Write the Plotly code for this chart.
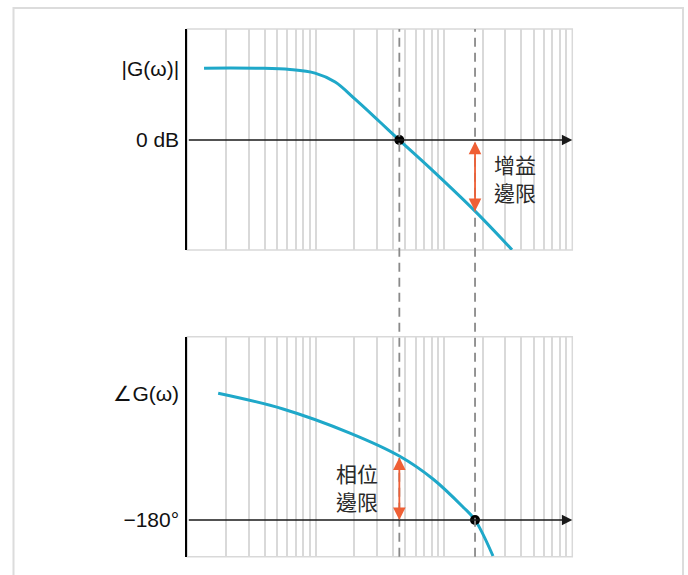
import math
import plotly.graph_objects as go

# ---- data ----
mag_omega = [1.35, 3.69, 6.31, 9.89, 14.2, 20.3, 31.7, 44.9, 77.9, 174.6, 339]
mag_db = [25.9, 25.85, 25.4, 24.1, 20.9, 14.7, 6.5, 0, -10.1, -25.6, -39.5]

phase_omega = [1.74, 5.57, 18.5, 44.9, 82.1, 140.7, 174.6, 241]
phase_deg = [-89.5, -100.7, -117.9, -134.3, -150.7, -170.7, -180, -205.7]

gain_crossover = 44.9      # |G| = 0 dB
phase_crossover = 174.6    # angle = -180 deg
gain_at_pc = -25.6         # |G| at phase crossover
phase_at_gc = -134.3       # angle at gain crossover

mag_ticks = [25.9, 0]
mag_ticktext = ["|G(ω)|", "0 dB"]
phase_ticks = [-89.5, -180]
phase_ticktext = ["∠G(ω)", "−180°"]

gain_label = ["增益", "邊限"]
phase_label = ["相位", "邊限"]

# ---- styling ----
W, H = 688, 575
CURVE = "#1fa8c9"
ARROW = "#ef5f35"
GRID = "#d9d9d9"
FONT = "Liberation Sans, Arial, sans-serif"
CJK = "Noto Sans CJK TC, Noto Sans CJK SC, sans-serif"

xdom = [187.3 / W, 572.3 / W]
ydom_top = [(H - 250) / H, (H - 29) / H]
ydom_bot = [(H - 556.7) / H, (H - 336.7) / H]

fig = go.Figure()

fig.add_trace(go.Scatter(x=mag_omega, y=mag_db, mode="lines",
                         line=dict(color=CURVE, width=3, shape="spline", smoothing=1.0),
                         xaxis="x", yaxis="y", showlegend=False, hoverinfo="skip"))
fig.add_trace(go.Scatter(x=phase_omega, y=phase_deg, mode="lines",
                         line=dict(color=CURVE, width=3, shape="spline", smoothing=1.0),
                         xaxis="x2", yaxis="y2", showlegend=False, hoverinfo="skip"))
# crossover dots
fig.add_trace(go.Scatter(x=[gain_crossover], y=[0], mode="markers", marker=dict(color="black", size=10),
                         xaxis="x", yaxis="y", showlegend=False, hoverinfo="skip"))
fig.add_trace(go.Scatter(x=[phase_crossover], y=[-180], mode="markers", marker=dict(color="black", size=10),
                         xaxis="x2", yaxis="y2", showlegend=False, hoverinfo="skip"))

xcommon = dict(type="log", range=[0, 3], showticklabels=False, showgrid=True, gridcolor=GRID, gridwidth=1.5,
               dtick="D1", ticks="", zeroline=False, showline=False, fixedrange=True)
ycommon = dict(showgrid=False, zeroline=False, showline=True, linecolor="black", linewidth=2,
               ticks="outside", ticklen=2, tickcolor="rgba(0,0,0,0)",
               tickfont=dict(family=FONT, size=21, color="#111"), fixedrange=True)
fig.update_layout(
    xaxis=dict(domain=xdom, anchor="y", **xcommon),
    xaxis2=dict(domain=xdom, anchor="y2", **xcommon),
    yaxis=dict(domain=ydom_top, anchor="x", range=[-39.6, 40], tickvals=mag_ticks, ticktext=mag_ticktext,
               **ycommon),
    yaxis2=dict(domain=ydom_bot, anchor="x2", range=[-206.2, -49.1], tickvals=phase_ticks,
                ticktext=phase_ticktext, **ycommon),
    width=W, height=H, margin=dict(l=0, r=0, t=0, b=0),
    plot_bgcolor="white", paper_bgcolor="white",
)

shapes = []
# outer frame (open at the bottom)
shapes.append(dict(type="path", xref="paper", yref="paper",
                   path=f"M {13.5/W},-0.05 L {13.5/W},{(H-8)/H} L {683/W},{(H-8)/H} L {683/W},-0.05",
                   line=dict(color="#dcdcdc", width=2), layer="below"))
# grey box borders of each panel
for xr, yr in (("x domain", "y domain"), ("x2 domain", "y2 domain")):
    shapes.append(dict(type="rect", xref=xr, yref=yr, x0=0, x1=1, y0=0, y1=1,
                       line=dict(color=GRID, width=1.5), layer="below"))
# dashed crossover lines through both panels
for w in (gain_crossover, phase_crossover):
    shapes.append(dict(type="line", xref="x", yref="paper", x0=w, x1=w, y0=ydom_bot[0], y1=ydom_top[1],
                       line=dict(color="#8a8a8a", width=1.8, dash="9px,6px")))
fig.update_layout(shapes=shapes)

ann = []
# horizontal reference lines with arrowheads
for xr, yr, yv in (("x", "y", 0), ("x2", "y2", -180)):
    ann.append(dict(xref=xr, yref=yr, axref=xr, ayref=yr, x=3, y=yv, ax=0, ay=yv, text="",
                    showarrow=True, arrowhead=2, arrowsize=1.3, arrowwidth=1.6, arrowcolor="#1a1a1a", standoff=0))
# margin arrows
lpc = math.log10(phase_crossover)
lgc = math.log10(gain_crossover)
ann.append(dict(xref="x", yref="y", axref="x", ayref="y", x=lpc, y=gain_at_pc, ax=lpc, ay=0, text="",
                showarrow=True, arrowhead=2, startarrowhead=2, arrowside="end+start", arrowsize=1.4,
                startarrowsize=1.4, arrowwidth=1.8, arrowcolor=ARROW, standoff=0, startstandoff=0))
ann.append(dict(xref="x2", yref="y2", axref="x2", ayref="y2", x=lgc, y=-180, ax=lgc, ay=phase_at_gc, text="",
                showarrow=True, arrowhead=2, startarrowhead=2, arrowside="end+start", arrowsize=1.4,
                startarrowsize=1.4, arrowwidth=1.8, arrowcolor=ARROW, standoff=0, startstandoff=0))
# margin labels, one annotation per line
lab_font = dict(family=CJK, size=21, color="#2a2a2a")
for i, line in enumerate(gain_label):
    ann.append(dict(xref="x", yref="y", x=lpc + 0.31, y=gain_at_pc / 2 - 0.9, text=line, showarrow=False,
                    font=lab_font, yshift=14 - 28 * i, height=24))
for i, line in enumerate(phase_label):
    ann.append(dict(xref="x2", yref="y2", x=lgc - 0.33, y=(phase_at_gc - 180) / 2 + 0.6, text=line,
                    showarrow=False, font=lab_font, yshift=14 - 28 * i, height=24))
fig.update_layout(annotations=ann)

fig.write_html("out.html", config={"displayModeBar": False},
               post_script="document.body.style.margin='0';")
